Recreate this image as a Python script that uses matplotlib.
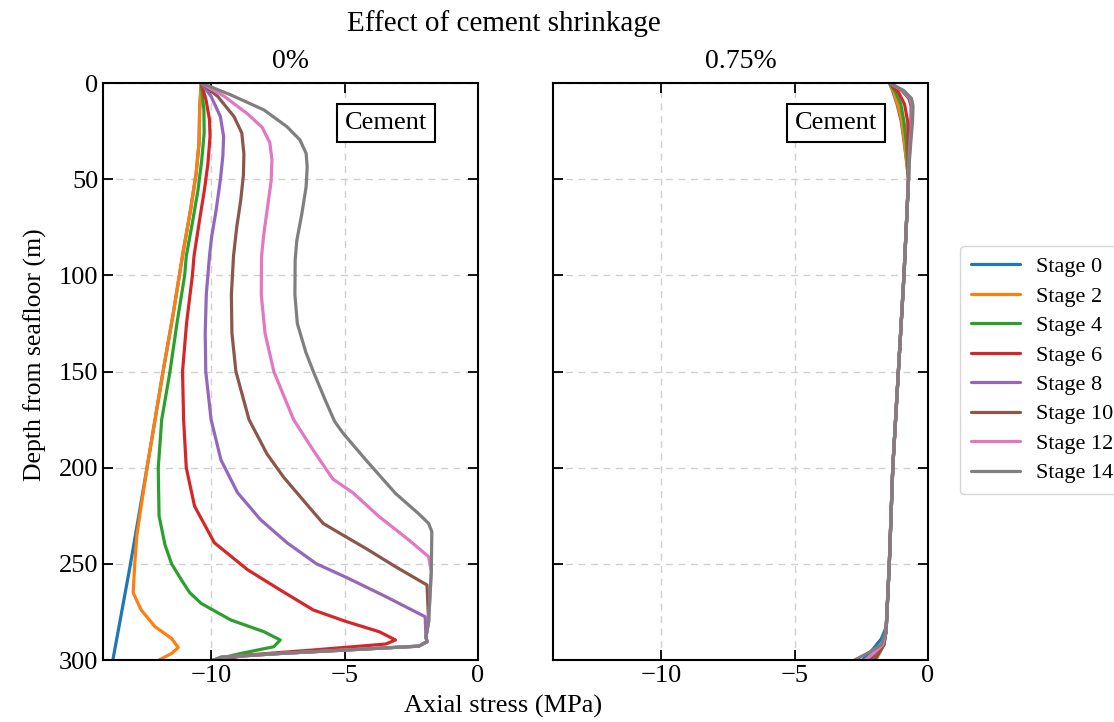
import matplotlib
matplotlib.use("Agg")
import matplotlib.pyplot as plt

plt.rcParams['font.family'] = ['Liberation Serif', 'DejaVu Serif']

stage_labels = ["Stage 0", "Stage 2", "Stage 4", "Stage 6", "Stage 8", "Stage 10", "Stage 12", "Stage 14"]
stage_colors = ["#1f77b4", "#ff7f0e", "#2ca02c", "#d62728", "#9467bd", "#8c564b", "#e377c2", "#7f7f7f"]
panel_titles = ["0%", "0.75%"]

# ---------- Left panel: 0% shrinkage (depth m, axial stress MPa) ----------
d0_s0 = [0, 14, 31, 47, 66, 88, 120, 150, 200, 250, 300]
x0_s0 = [-10.37, -10.43, -10.45, -10.56, -10.77, -11.05, -11.42, -11.8, -12.4, -13.02, -13.68]

d0_s2 = [0, 14, 31, 47, 66, 88, 120, 150, 200, 220, 235, 250, 265, 274, 282.7, 288.8, 293.5, 296.6, 300]
x0_s2 = [-10.37, -10.43, -10.45, -10.56, -10.77, -11.05, -11.42, -11.8, -12.4, -12.62, -12.78, -12.86, -12.92, -12.62, -12.1, -11.48, -11.23, -11.48, -11.95]

d0_s4 = [0, 14, 26, 40, 55.6, 71, 90, 100, 125, 150, 175, 200, 225, 240, 250, 258.4, 265, 270.6, 279.2, 285.3, 289.6, 293.1, 296.6, 300]
x0_s4 = [-10.37, -10.27, -10.26, -10.35, -10.49, -10.68, -10.93, -10.99, -11.28, -11.54, -11.85, -11.98, -11.95, -11.73, -11.48, -11.11, -10.8, -10.37, -9.26, -8.02, -7.41, -7.65, -8.89, -9.94]

d0_s6 = [0, 8.8, 19, 28, 42, 55.6, 71, 90, 100, 125, 150, 175, 200, 220, 239, 253, 263.6, 274, 280, 285.3, 289.6, 291.7, 294.8, 297.4, 300]
x0_s6 = [-10.37, -10.19, -10.06, -10.04, -10.12, -10.25, -10.43, -10.64, -10.7, -10.92, -11.07, -11.03, -10.93, -10.62, -9.88, -8.64, -7.41, -6.17, -4.94, -3.7, -3.09, -3.46, -6.17, -8.64, -9.7]

d0_s8 = [0, 7, 17.5, 28, 38, 50, 66, 80, 90, 110, 130, 150, 175, 196, 213, 227, 239, 250, 257, 267, 277.5, 288, 290.5, 292.8, 294.8, 296.6, 298.6, 300]
x0_s8 = [-10.37, -10.0, -9.65, -9.53, -9.56, -9.65, -9.81, -9.98, -10.06, -10.18, -10.22, -10.2, -10.0, -9.63, -9.01, -8.15, -7.16, -6.05, -4.94, -3.46, -1.98, -1.95, -1.91, -2.22, -4.94, -7.41, -9.63, -9.88]

d0_s10 = [0, 7, 17.5, 26, 37, 48, 61, 75, 90, 110, 130, 150, 175, 193, 205, 219, 229, 234, 242, 251.5, 261, 280, 288, 290.5, 292.8, 294.8, 296.6, 298.6, 300]
x0_s10 = [-10.37, -9.75, -9.14, -8.85, -8.77, -8.79, -8.89, -9.04, -9.16, -9.24, -9.22, -9.07, -8.58, -7.9, -7.28, -6.42, -5.8, -5.19, -4.2, -3.09, -1.91, -1.85, -1.95, -1.91, -2.22, -4.94, -7.41, -9.63, -9.88]

d0_s12 = [0, 7, 16, 23, 31, 40, 51, 64, 78, 90, 110, 130, 150, 175, 191, 201, 206, 213, 225.5, 237.6, 246.3, 254, 280, 288, 290.5, 292.8, 294.8, 296.6, 298.6, 300]
x0_s12 = [-10.37, -9.5, -8.64, -8.09, -7.8, -7.72, -7.75, -7.88, -8.02, -8.11, -8.12, -7.98, -7.65, -6.91, -6.17, -5.68, -5.43, -4.69, -3.7, -2.59, -1.85, -1.75, -1.85, -1.95, -1.91, -2.22, -4.94, -7.41, -9.63, -9.88]

d0_s14 = [0, 6.2, 14, 22.7, 29.6, 36.6, 43.5, 54, 68, 82, 92, 110, 125, 140, 150, 165, 176, 182, 196, 213.4, 224, 229, 233.3, 254, 280, 288, 290.5, 292.8, 294.8, 296.6, 298.6, 300]
x0_s14 = [-10.37, -9.26, -8.02, -7.16, -6.67, -6.44, -6.4, -6.44, -6.6, -6.79, -6.85, -6.86, -6.77, -6.45, -6.17, -5.72, -5.37, -5.06, -4.2, -3.09, -2.22, -1.85, -1.73, -1.75, -1.85, -1.95, -1.91, -2.22, -4.94, -7.41, -9.63, -9.88]

# ---------- Right panel: 0.75% shrinkage ----------
d1_s0 = [0, 5, 11, 20, 30, 41, 50, 100, 150, 200, 250, 283, 289, 295, 300]
x1_s0 = [-1.44, -1.3, -1.16, -1.0, -0.9, -0.8, -0.73, -0.9, -1.11, -1.32, -1.45, -1.57, -1.75, -2.1, -2.45]

d1_s2 = [0, 5, 11, 20, 30, 41, 50, 100, 150, 200, 250, 285, 292, 296, 300]
x1_s2 = [-1.44, -1.28, -1.14, -0.98, -0.89, -0.8, -0.73, -0.9, -1.11, -1.32, -1.45, -1.57, -1.65, -1.8, -1.95]

d1_s4 = [0, 5, 11, 20, 30, 41, 50, 100, 150, 200, 250, 285, 292, 296, 300]
x1_s4 = [-1.44, -1.2, -1.02, -0.9, -0.82, -0.77, -0.73, -0.9, -1.11, -1.32, -1.45, -1.57, -1.65, -1.82, -2.0]

d1_s6 = [0, 5, 11, 20, 30, 41, 50, 100, 150, 200, 250, 285, 292, 296, 300]
x1_s6 = [-1.44, -1.1, -0.88, -0.76, -0.74, -0.74, -0.73, -0.9, -1.11, -1.32, -1.45, -1.57, -1.66, -1.85, -2.05]

d1_s8 = [0, 4, 8, 12, 20, 30, 41, 50, 100, 150, 200, 250, 285, 292, 296, 300]
x1_s8 = [-1.44, -0.95, -0.7, -0.62, -0.63, -0.68, -0.72, -0.73, -0.9, -1.11, -1.32, -1.45, -1.57, -1.67, -1.9, -2.15]

d1_s10 = [0, 4, 8, 12, 20, 30, 41, 50, 100, 150, 200, 250, 285, 292, 296, 300]
x1_s10 = [-1.44, -0.97, -0.72, -0.63, -0.63, -0.67, -0.72, -0.73, -0.9, -1.11, -1.32, -1.45, -1.57, -1.67, -1.9, -2.2]

d1_s12 = [0, 4, 8, 12, 20, 30, 41, 50, 100, 150, 200, 250, 285, 292, 296, 300]
x1_s12 = [-1.44, -0.93, -0.66, -0.59, -0.6, -0.66, -0.71, -0.73, -0.9, -1.11, -1.32, -1.45, -1.57, -1.7, -2.0, -2.35]

d1_s14 = [0, 4, 8, 12, 20, 30, 41, 50, 100, 150, 200, 250, 285, 292, 296, 300]
x1_s14 = [-1.44, -0.9, -0.62, -0.56, -0.58, -0.64, -0.7, -0.73, -0.9, -1.11, -1.32, -1.45, -1.57, -1.75, -2.2, -2.75]

left_depths = [d0_s0, d0_s2, d0_s4, d0_s6, d0_s8, d0_s10, d0_s12, d0_s14]
left_stress = [x0_s0, x0_s2, x0_s4, x0_s6, x0_s8, x0_s10, x0_s12, x0_s14]
right_depths = [d1_s0, d1_s2, d1_s4, d1_s6, d1_s8, d1_s10, d1_s12, d1_s14]
right_stress = [x1_s0, x1_s2, x1_s4, x1_s6, x1_s8, x1_s10, x1_s12, x1_s14]

fig = plt.figure(figsize=(11.14, 7.22), dpi=100)
ax1 = fig.add_axes([103/1114, 1-660/722, 375/1114, 577/722])
ax2 = fig.add_axes([553/1114, 1-660/722, 375/1114, 577/722])

handles = []
for ax, depths, stresses, title in [(ax1, left_depths, left_stress, panel_titles[0]),
                                     (ax2, right_depths, right_stress, panel_titles[1])]:
    for d, s, c, lab in zip(depths, stresses, stage_colors, stage_labels):
        ln, = ax.plot(s, d, color=c, lw=2.3, label=lab,
                      solid_joinstyle='round', solid_capstyle='round')
        if ax is ax1:
            handles.append(ln)
    ax.set_xlim(-14.05, 0)
    ax.set_ylim(300, 0)
    ax.set_xticks([-10, -5, 0])
    ax.set_yticks([0, 50, 100, 150, 200, 250, 300])
    ax.grid(True, linestyle=(0, (5, 4)), color='#d0d0d0', lw=1.0)
    ax.tick_params(direction='in', top=True, right=True, length=7, width=1.3, labelsize=19)
    for sp in ax.spines.values():
        sp.set_linewidth(1.5)
    ax.set_title(title, fontsize=20, pad=11)
    ax.text(0.755, 0.93, "Cement", transform=ax.transAxes, fontsize=19,
            ha='center', va='center',
            bbox=dict(boxstyle='square,pad=0.3', facecolor='white', edgecolor='black', lw=1.5))

ax2.set_yticklabels([])
ax1.set_ylabel("Depth from seafloor (m)", fontsize=18.5)
ax1.yaxis.set_label_coords(-0.15, 0.53)

fig.text(0.452, 0.968, "Effect of cement shrinkage", fontsize=21, ha='center', va='center')
fig.text(0.452, 0.022, "Axial stress (MPa)", fontsize=19, ha='center', va='center')

fig.legend(handles=handles, loc='center left', bbox_to_anchor=(949/1114, 1-370/722),
           fontsize=16, frameon=True, handlelength=2.2, labelspacing=0.4, borderpad=0.5,
           handletextpad=0.7)

fig.savefig("out.png", dpi=100)
